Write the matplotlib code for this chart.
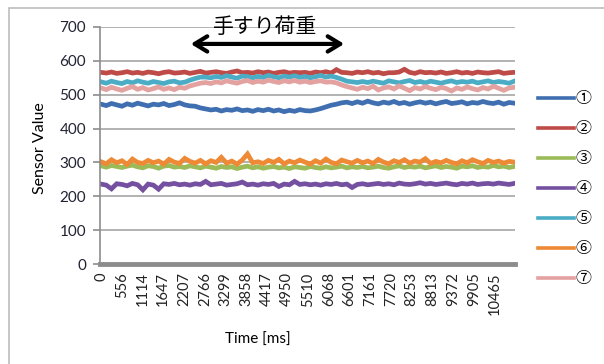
import numpy as np
import matplotlib.pyplot as plt
from matplotlib.lines import Line2D
from matplotlib.patches import Rectangle

# sample times [ms], one every 139 ms
time_ms = np.arange(80) * 139

s1 = [472, 468, 474, 470, 466, 473, 469, 475, 471, 467,
      472, 470, 474, 468, 471, 476, 470, 467, 466, 461,
      458, 455, 457, 452, 456, 454, 458, 453, 455, 451,
      456, 453, 457, 452, 455, 450, 454, 451, 456, 453,
      452, 455, 459, 464, 469, 472, 476, 478, 474, 479,
      475, 481, 476, 473, 478, 475, 480, 474, 477, 472,
      476, 479, 475, 478, 473, 477, 480, 474, 476, 479,
      473, 477, 475, 480, 476, 474, 478, 472, 477, 475]
s2 = [566, 564, 567, 563, 565, 568, 564, 566, 563, 567,
      565, 562, 566, 568, 564, 565, 567, 563, 566, 569,
      564, 566, 568, 565, 563, 567, 570, 565, 566, 564,
      568, 565, 567, 563, 566, 568, 564, 566, 565, 566,
      563, 567, 565, 568, 564, 574, 566, 565, 563, 567,
      565, 568, 564, 566, 562, 565, 565, 567, 575, 566,
      563, 568, 565, 566, 564, 567, 563, 565, 568, 564,
      566, 563, 567, 565, 564, 566, 568, 563, 565, 566]
s3 = [290, 286, 291, 288, 285, 289, 292, 287, 284, 290,
      288, 283, 289, 291, 286, 288, 285, 290, 287, 284,
      289, 286, 283, 288, 285, 287, 282, 286, 289, 284,
      287, 283, 286, 288, 284, 286, 282, 287, 285, 283,
      288, 285, 283, 287, 284, 286, 289, 284, 287, 285,
      288, 284, 286, 289, 285, 283, 287, 290, 285, 288,
      286, 289, 284, 287, 290, 285, 288, 286, 283, 289,
      287, 290, 285, 288, 286, 291, 287, 289, 285, 288]
s4 = [236, 233, 222, 237, 235, 231, 238, 234, 219, 236,
      233, 221, 237, 235, 238, 234, 236, 233, 237, 235,
      244, 234, 236, 238, 233, 235, 237, 242, 234, 236,
      233, 237, 235, 238, 229, 236, 234, 244, 235, 237,
      234, 236, 233, 237, 235, 238, 234, 236, 226, 235,
      237, 234, 236, 238, 235, 237, 234, 239, 236, 235,
      237, 240, 236, 238, 235, 237, 239, 236, 234, 238,
      236, 239, 235, 237, 238, 236, 239, 237, 235, 238]
s5 = [538, 534, 540, 536, 533, 539, 535, 541, 537, 534,
      539, 536, 533, 538, 540, 535, 537, 543, 548, 552,
      552, 550, 554, 551, 556, 552, 549, 555, 553, 550,
      554, 551, 557, 553, 550, 555, 552, 556, 551, 554,
      550, 553, 557, 552, 555, 551, 546, 540, 538, 536,
      539, 536, 540, 537, 534, 541, 538, 535, 539, 542,
      536, 539, 535, 540, 537, 534, 538, 541, 536, 539,
      537, 540, 535, 538, 541, 536, 539, 537, 534, 540]
s6 = [302, 296, 308, 299, 305, 294, 310, 300, 297, 306,
      299, 304, 295, 309, 301, 297, 312, 303, 298, 306,
      296, 305, 300, 315, 298, 304, 295, 307, 325, 299,
      302, 297, 306, 300, 309, 296, 304, 299, 307, 301,
      295, 305, 298, 310, 300, 296, 307, 302, 298, 306,
      299, 304, 297, 309, 301, 296, 305, 300, 308, 298,
      304, 301, 311, 297, 303, 299, 306, 300, 296, 305,
      299, 308, 302, 297, 306, 300, 304, 298, 303, 301]
s7 = [520, 515, 522, 517, 513, 519, 524, 516, 521, 514,
      518, 523, 516, 520, 515, 522, 519, 526, 530, 534,
      536, 533, 538, 535, 541, 537, 534, 539, 542, 536,
      540, 537, 543, 539, 536, 541, 538, 542, 537, 540,
      536, 539, 541, 537, 538, 535, 529, 524, 520, 516,
      522, 518, 525, 514, 520, 523, 517, 526, 519, 512,
      521, 517, 524, 519, 515, 522, 518, 511, 520, 516,
      523, 518, 514, 521, 517, 525, 519, 513, 520, 522]

series = [s1, s2, s3, s4, s5, s6, s7]
labels = ['①', '②', '③', '④', '⑤', '⑥', '⑦']
colors = ['#3F6FB0', '#BE4B48', '#9BBB59', '#7550A0',
          '#4BACC6', '#EE8A35', '#E3A1A0']

xtick_vals = [0, 556, 1114, 1647, 2207, 2766, 3299, 3858, 4417, 4950,
              5510, 6068, 6601, 7161, 7720, 8253, 8813, 9372, 9905, 10465]

font = 'Lato'
cjk = ['Noto Sans CJK JP', 'DejaVu Sans']

fig = plt.figure(figsize=(6.04, 3.64), dpi=100)
ax = fig.add_axes([100/604, 1 - 264/364, 415/604, 237/364])

for s, c in zip(series, colors):
    ax.plot(time_ms, s, color=c, linewidth=3.4, solid_joinstyle='miter')

ax.set_xlim(-27, 11000)
ax.set_ylim(0, 700)
ax.set_yticks(range(0, 701, 100))
ax.yaxis.grid(True, color='#A6A6A6', linewidth=1.2)
ax.set_axisbelow(True)
ax.set_xticks(xtick_vals)
ax.set_xticklabels([str(v) for v in xtick_vals], rotation=90,
                   fontsize=10.5, family=font, color='#222222')
ax.tick_params(axis='x', length=0, pad=6)
ax.tick_params(axis='y', length=5, color='#8C8C8C', width=1.2,
               labelsize=11, labelcolor='#222233', pad=5)
for lab in ax.get_yticklabels():
    lab.set_family(font)

for side in ['top', 'right']:
    ax.spines[side].set_visible(False)
ax.spines['left'].set_color('#8C8C8C')
ax.spines['left'].set_linewidth(1.2)
ax.spines['bottom'].set_color('#8C8C8C')
ax.spines['bottom'].set_linewidth(3.5)

fig.text(40/604, 1 - 148/364, 'Sensor Value', family=font, fontsize=11.5,
         rotation=90, ha='center', va='center')
fig.text(258/604, 1 - 340/364, 'Time [ms]', family=font, fontsize=11,
         ha='center', va='center')

# annotation: handrail load span
ax.annotate('', xy=(2311, 650), xytext=(6535, 650),
            arrowprops=dict(arrowstyle='<->,head_length=0.9,head_width=0.55',
                            color='black', lw=3))
ax.text(4357, 700, '手すり荷重', family=cjk, fontsize=15,
        ha='center', va='center', clip_on=False)

# legend drawn by hand on the right
for i, (lab, c) in enumerate(zip(labels, colors)):
    y = 1 - (98 + 30 * i) / 364
    fig.add_artist(Line2D([538/604, 574/604], [y, y], color=c, linewidth=2.6))
    fig.text(575/604, y, lab, family=cjk, fontsize=11.5, ha='left', va='center')

# outer chart border
fig.add_artist(Rectangle((9/604, -0.1), 2, 1 - 8/364 + 0.1,
                         transform=fig.transFigure, fill=False,
                         edgecolor='#BDBDBD', linewidth=1.2))

fig.savefig('out.png', dpi=100)
